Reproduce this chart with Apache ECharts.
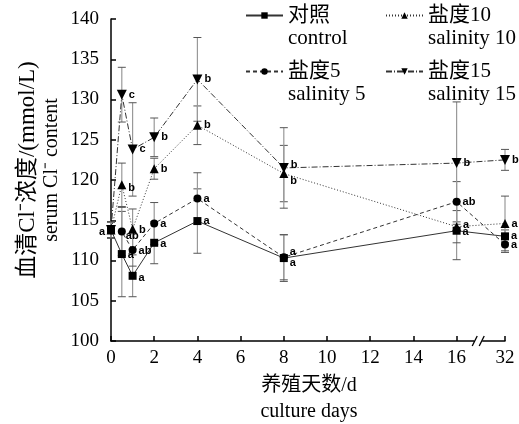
<!DOCTYPE html>
<html>
<head>
<meta charset="utf-8">
<script src="https://cdn.jsdelivr.net/npm/echarts@6/dist/echarts.min.js"></script>
<style>html,body{margin:0;padding:0;background:#fff;}#c{width:519px;height:424px;}</style>
</head>
<body>
<div id="c"></div>
<script>
// ---- data ----
const days = [0, 0.5, 1, 2, 4, 8, 16, 32];
const tickDays = [0, 2, 4, 6, 8, 10, 12, 14, 16, 32];
const yTicks = [100, 105, 110, 115, 120, 125, 130, 135, 140];
const seriesNames = ['对照', '盐度5', '盐度10', '盐度15'];
const seriesNamesEn = ['control', 'salinity 5', 'salinity 10', 'salinity 15'];
const control = [113.8, 110.8, 108.1, 112.2, 114.9, 110.3, 113.7, 113.0];
const controlErr = [1.0, 5.3, 2.6, 2.6, 4.0, 2.9, 3.6, 0.8];
const sal5 = [113.8, 113.6, 111.3, 114.6, 117.7, 110.4, 117.3, 112.0];
const sal5Err = [1.0, 3.0, 2.0, 2.6, 3.2, 2.8, 2.5, 1.0];
const sal10 = [113.8, 119.4, 113.9, 121.4, 126.8, 120.8, 114.2, 114.6];
const sal10Err = [1.0, 2.7, 2.5, 1.3, 2.4, 3.5, 2.0, 3.4];
const sal15 = [113.8, 130.6, 123.8, 125.3, 132.5, 121.5, 122.1, 122.5];
const sal15Err = [1.0, 3.4, 5.8, 2.4, 5.2, 5.0, 7.6, 1.3];
const controlLetters = ['a', 'a', 'a', 'a', 'a', 'a', 'a', 'a'];
const sal5Letters = ['', 'ab', 'ab', 'a', 'a', 'a', 'ab', 'a'];
const sal10Letters = ['', 'b', 'b', 'b', 'b', 'b', 'a', 'a'];
const sal15Letters = ['', 'c', 'c', 'b', 'b', 'b', 'b', 'b'];

// ---- broken x axis (16 | 32) ----
function xPos(d) { return d <= 16 ? d : 16 + (d - 16) * 0.14; }
const xMax = xPos(32);
const breakAt = 17.0;

// ---- styles ----
const serif = "'Liberation Serif','Noto Sans CJK SC',serif";
const lineCol = '#333';
const labelOffsets = {
  control: [[0, 2, 'left'], [0, 1], [0, 2], [0, 1], [0, 0], [0, 5], [0, 1], [0, 0]],
  sal5:    [[0, 0], [-2, 4], [0, 1], [0, 0], [0, 0], [0, -5], [0, 0], [0, 1]],
  sal10:   [[0, 0], [0, 3], [0, 1], [0, 0], [0, 0], [0, 7], [0, -2], [0, 0]],
  sal15:   [[0, 0], [0, 0], [0, 0], [0, 0], [0, 0], [0, -3], [0, 0], [0, 0]]
};

function lineData(vals, letters, offs) {
  return days.map((d, i) => ({
    value: [xPos(d), vals[i]],
    label: {
      show: letters[i] !== '',
      formatter: letters[i],
      position: offs[i][2] || 'right',
      distance: 2,
      offset: [offs[i][0], offs[i][1]]
    }
  }));
}
function errData(vals, errs) {
  return days.map((d, i) => [xPos(d), vals[i], errs[i]]);
}
function renderErr(params, api) {
  const x = api.value(0), y = api.value(1), e = api.value(2);
  const t = api.coord([x, y + e]);
  const b = api.coord([x, y - e]);
  const hw = 4;
  return {
    type: 'group',
    children: [
      { type: 'line', shape: { x1: t[0], y1: t[1], x2: b[0], y2: b[1] }, style: { stroke: '#999', lineWidth: 1.2 } },
      { type: 'line', shape: { x1: t[0] - hw, y1: t[1], x2: t[0] + hw, y2: t[1] }, style: { stroke: '#555', lineWidth: 1 } },
      { type: 'line', shape: { x1: b[0] - hw, y1: b[1], x2: b[0] + hw, y2: b[1] }, style: { stroke: '#555', lineWidth: 1 } }
    ]
  };
}

const labelStyle = { color: '#000', fontFamily: "'Liberation Sans',Arial,sans-serif", fontWeight: 'bold', fontSize: 11 };

function lineSeries(name, vals, letters, offs, symbol, size, dash) {
  return {
    name: name, type: 'line', data: lineData(vals, letters, offs),
    symbol: symbol, symbolSize: size, clip: false, z: 5,
    itemStyle: { color: '#000' },
    lineStyle: { color: lineCol, width: 1, type: dash },
    label: labelStyle,
    emphasis: { disabled: true },
    animation: false
  };
}
function errSeries(vals, errs) {
  return { type: 'custom', data: errData(vals, errs), renderItem: renderErr, z: 2, clip: false, silent: true, animation: false };
}

const triDown = 'path://M0,0 L10,0 L5,9 Z';

const legendBase = {
  selectedMode: false, itemWidth: 37, itemHeight: 8, padding: 0,
  textStyle: { fontFamily: serif, fontSize: 21, lineHeight: 23, color: '#000' },
  formatter: function (n) { return ' \n' + n + '\n' + seriesNamesEn[seriesNames.indexOf(n)]; }
};

const chart = echarts.init(document.getElementById('c'), null, { renderer: 'canvas' });
const baseGraphic = [
  { type: 'text', rotation: Math.PI / 2, x: 28, y: 170,
    style: { text: '血清Cl⁻浓度/(mmol/L)', font: '23px ' + serif, fill: '#000', align: 'center', verticalAlign: 'middle' } },
  { type: 'text', rotation: Math.PI / 2, x: 52, y: 170,
    style: { text: 'serum Cl⁻ content', font: '20px ' + serif, fill: '#000', align: 'center', verticalAlign: 'middle' } },
  { type: 'text', x: 309, y: 386,
    style: { text: '养殖天数/d', font: '20px ' + serif, fill: '#000', align: 'center', verticalAlign: 'middle' } },
  { type: 'text', x: 309, y: 412,
    style: { text: 'culture days', font: '20px ' + serif, fill: '#000', align: 'center', verticalAlign: 'middle' } }
];
const option = {
  animation: false,
  backgroundColor: '#fff',
  grid: { left: 111, right: 519 - 505, top: 19, bottom: 424 - 341, containLabel: false },
  legend: [
    Object.assign({}, legendBase, { data: [seriesNames[0]], left: 245, top: -19 }),
    Object.assign({}, legendBase, { data: [seriesNames[2]], left: 385, top: -19 }),
    Object.assign({}, legendBase, { data: [seriesNames[1]], left: 245, top: 37 }),
    Object.assign({}, legendBase, { data: [seriesNames[3]], left: 385, top: 37 })
  ],
  xAxis: {
    type: 'value', min: 0, max: xMax,
    splitLine: { show: false },
    axisLine: { lineStyle: { color: '#000', width: 1.5 } },
    axisTick: { inside: true, length: 5, lineStyle: { color: '#000', width: 1.5 }, customValues: tickDays.map(xPos) },
    axisLabel: {
      customValues: tickDays.map(xPos), margin: 8, color: '#000', fontFamily: serif, fontSize: 19,
      formatter: function (v) { const i = tickDays.map(xPos).findIndex(t => Math.abs(t - v) < 1e-6); return i >= 0 ? String(tickDays[i]) : ''; }
    }
  },
  yAxis: {
    type: 'value', min: yTicks[0], max: yTicks[yTicks.length - 1], interval: 5,
    splitLine: { show: false },
    axisLine: { show: true, lineStyle: { color: '#000', width: 1.5 } },
    axisTick: { inside: true, length: 5, lineStyle: { color: '#000', width: 1.5 } },
    axisLabel: { margin: 12, color: '#000', fontFamily: serif, fontSize: 19 }
  },
  series: [
    errSeries(control, controlErr),
    errSeries(sal5, sal5Err),
    errSeries(sal10, sal10Err),
    errSeries(sal15, sal15Err),
    lineSeries(seriesNames[0], control, controlLetters, labelOffsets.control, 'rect', 8, 'solid'),
    lineSeries(seriesNames[1], sal5, sal5Letters, labelOffsets.sal5, 'circle', 8, [4, 3]),
    lineSeries(seriesNames[2], sal10, sal10Letters, labelOffsets.sal10, 'triangle', 9, [1, 2]),
    lineSeries(seriesNames[3], sal15, sal15Letters, labelOffsets.sal15, triDown, 10, [6, 2, 1, 2])
  ],
  graphic: baseGraphic
};
chart.setOption(option);

// axis break marks
const bx = chart.convertToPixel({ xAxisIndex: 0 }, breakAt);
const by = chart.convertToPixel({ yAxisIndex: 0 }, yTicks[0]);
chart.setOption({
  graphic: baseGraphic.concat([
    { type: 'rect', shape: { x: bx - 4, y: by - 3, width: 8, height: 6 }, style: { fill: '#fff' }, z: 100 },
    { type: 'line', shape: { x1: bx - 6, y1: by + 5, x2: bx - 1, y2: by - 5 }, style: { stroke: '#000', lineWidth: 1.3 }, z: 101 },
    { type: 'line', shape: { x1: bx + 1, y1: by + 5, x2: bx + 6, y2: by - 5 }, style: { stroke: '#000', lineWidth: 1.3 }, z: 101 }
  ])
});
</script>
</body>
</html>
